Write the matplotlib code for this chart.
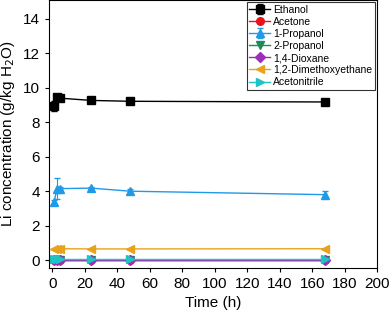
import numpy as np
import matplotlib
matplotlib.use("Agg")
import matplotlib.pyplot as plt

plt.rcParams['font.family'] = ['Liberation Sans', 'DejaVu Sans']

# sampling times (h)
time_h = [1, 3, 5, 24, 48, 168]

ethanol = [8.95, 9.45, 9.4, 9.27, 9.22, 9.18]
ethanol_err = [0.3, 0.1, 0.1, 0.1, 0.05, 0.08]
acetone = [0.02, 0.02, 0.02, 0.02, 0.02, 0.02]
propanol_1 = [3.35, 4.15, 4.15, 4.18, 4.0, 3.8]
propanol_1_err = [0.15, 0.6, 0.1, 0.05, 0.15, 0.2]
propanol_2 = [0.02, 0.02, 0.02, 0.02, 0.02, 0.02]
dioxane = [0.01, 0.01, 0.01, 0.01, 0.01, 0.01]
dme = [0.65, 0.66, 0.66, 0.65, 0.65, 0.66]
acetonitrile = [0.04, 0.04, 0.04, 0.04, 0.04, 0.04]

series = [
    ("Ethanol", ethanol, ethanol_err, "black", "s"),
    ("Acetone", acetone, None, "#e8141c", "o"),
    ("1-Propanol", propanol_1, propanol_1_err, "#1f9ae8", "^"),
    ("2-Propanol", propanol_2, None, "#1e8a5a", "v"),
    ("1,4-Dioxane", dioxane, None, "#9b2fb5", "D"),
    ("1,2-Dimethoxyethane", dme, None, "#e8a21c", "<"),
    ("Acetonitrile", acetonitrile, None, "#1fc3c3", ">"),
]

fig = plt.figure(figsize=(3.92, 3.17), dpi=100)
ax = fig.add_axes([0.125, 0.155, 0.837, 0.845])

for name, vals, err, col, mk in series:
    ax.errorbar(time_h, vals, yerr=err, color=col, marker=mk, markersize=5.5,
                linewidth=1.0, capsize=2, elinewidth=0.8, label=name)

ax.set_xlim(-2, 200)
ax.set_ylim(-0.45, 15.1)
ax.set_xticks(np.arange(0, 201, 20))
ax.set_yticks(np.arange(0, 15, 2))
ax.tick_params(labelsize=11, direction='out', length=3)
ax.set_xlabel("Time (h)", fontsize=11)
ax.set_ylabel("Li concentration (g/kg H$_2$O)", fontsize=11)

leg = ax.legend(loc='upper right', fontsize=7.5, frameon=True, fancybox=False,
                edgecolor='black', handlelength=2.0, borderpad=0.25,
                labelspacing=0.2, handletextpad=0.3, borderaxespad=0.2)
leg.get_frame().set_linewidth(0.8)

fig.savefig("out.png", dpi=100)
